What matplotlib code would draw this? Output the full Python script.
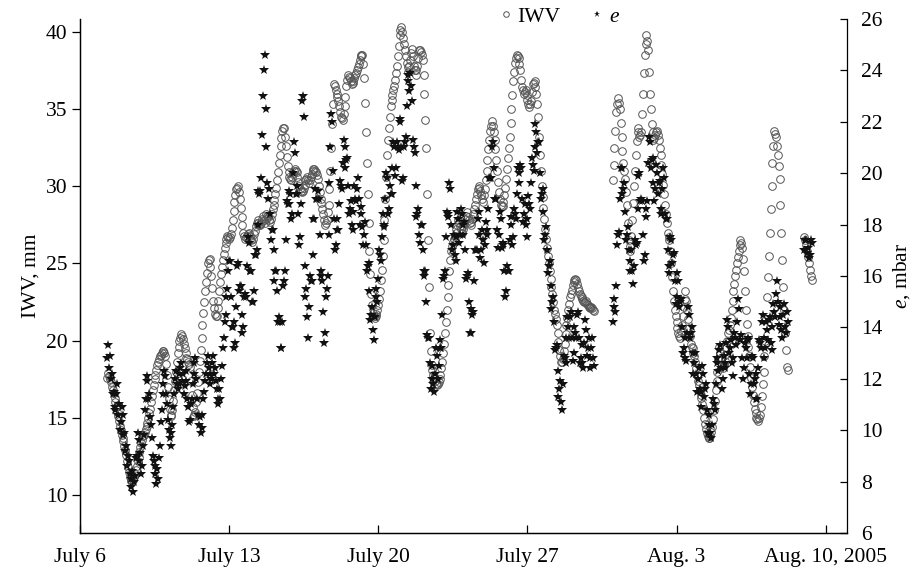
import matplotlib
matplotlib.use("Agg")
import matplotlib.pyplot as plt
import numpy as np
import pandas as pd
from matplotlib.lines import Line2D

nan = np.nan

# hourly readings, one row per day (00h ... 23h), starting July 7
iwv_mm = [
    nan, nan, nan, nan, nan, nan, nan, 17.6, 17.9, 17.7, 17.5, 17.3, 17.0, 16.8, 16.6, 16.3, 16.0, 15.7, 15.4, 15.1, 14.8, 14.5, 14.2, 13.9,  # Jul 7
    13.7, 13.5, 13.2, 12.9, 12.6, 12.2, 11.8, 11.5, 11.2, 11.0, 10.9, 10.9, 11.0, 11.2, 11.4, 11.6, 11.9, 12.2, 12.5, 12.8, 13.1, 13.4, 13.6, 13.8,  # Jul 8
    13.9, 14.1, 14.3, 14.5, 14.7, 15.0, 15.3, 15.6, 16.0, 16.4, 16.8, 17.1, 17.5, 17.8, 18.1, 18.4, 18.6, 18.8, 19.0, 19.1, 19.2, 19.3, 19.3, 19.2,  # Jul 9
    19.0, 18.5, 17.8, 17.0, 16.2, 15.6, 15.1, 15.2, 15.5, 16.1, 16.8, 17.4, 18.0, 18.6, 19.2, 19.6, 20.0, 20.2, 20.4, 20.3, 20.1, 19.8, 19.5, 19.2,  # Jul 10
    18.9, 18.8, 18.6, 18.5, 18.3, 17.4, 16.5, 15.7, 15.1, 15.2, 15.4, 16.0, 16.6, 17.3, 18.0, 18.7, 19.4, 20.2, 21.0, 21.8, 22.5, 23.2, 23.8, 24.4,  # Jul 11
    25.0, 25.2, 25.3, 24.8, 24.2, 23.4, 22.6, 22.1, 21.7, 21.6, 21.6, 22.1, 22.6, 23.2, 23.8, 24.3, 24.8, 25.2, 25.6, 26.0, 26.3, 26.6, 26.8, 26.7,  # Jul 12
    26.6, 26.7, 26.9, 27.3, 27.8, 28.4, 29.0, 29.4, 29.8, 29.9, 30.0, 29.6, 29.2, 28.6, 28.0, 27.5, 27.0, 26.8, 26.6, 26.7, 26.8, 26.9, 27.0, 26.8,  # Jul 13
    26.6, 26.5, 26.4, 26.6, 26.9, 27.1, 27.4, 27.6, 27.8, 27.6, 27.5, 27.5, 27.6, 27.9, 28.1, 27.8, 27.6, 27.9, 28.2, 28.1, 28.0, 27.8, 27.7, 27.9,  # Jul 14
    28.2, 28.5, 28.8, 29.1, 29.5, 29.9, 30.4, 30.9, 31.5, 32.0, 32.6, 33.1, 33.6, 33.8, 33.8, 33.2, 32.6, 31.9, 31.3, 30.9, 30.6, 30.5, 30.4, 30.6,  # Jul 15
    30.8, 31.0, 31.1, 31.0, 30.9, 30.6, 30.3, 30.0, 29.8, 29.7, 29.6, 29.7, 29.9, 30.1, 30.4, 30.5, 30.6, 30.4, 30.2, 30.4, 30.6, 30.8, 31.0, 31.1,  # Jul 16
    31.1, 31.0, 30.9, 30.7, 30.5, 30.0, 29.6, 29.2, 28.9, 28.5, 28.2, 27.8, 27.5, 27.6, 27.8, 28.3, 28.8, 29.8, 31.0, 32.5, 34.0, 35.3, 36.6, 36.5,  # Jul 17
    36.2, 36.0, 35.8, 35.5, 35.2, 34.8, 34.5, 34.4, 34.3, 34.7, 35.2, 35.8, 36.5, 36.9, 37.2, 37.1, 37.0, 36.8, 36.6, 36.7, 36.8, 37.0, 37.2, 37.3,  # Jul 18
    37.5, 37.7, 37.9, 38.2, 38.4, 38.5, 38.5, 37.9, 37.0, 35.4, 33.5, 31.5, 29.5, 27.6, 25.8, 24.3, 23.0, 22.3, 21.8, 21.6, 21.5, 21.6, 21.7, 22.0,  # Jul 19
    22.3, 22.7, 23.2, 23.9, 24.6, 25.5, 26.5, 27.8, 29.2, 30.6, 32.0, 33.0, 33.8, 34.5, 35.2, 35.6, 35.9, 36.2, 36.5, 36.9, 37.3, 37.8, 38.4, 39.1,  # Jul 20
    39.8, 40.1, 40.3, 40.0, 39.6, 39.2, 38.8, 38.4, 38.0, 37.7, 37.4, 37.8, 38.2, 38.6, 38.9, 38.4, 37.8, 37.5, 37.2, 37.5, 37.8, 38.3, 38.8, 38.8,  # Jul 21
    38.7, 38.5, 38.2, 37.2, 36.0, 34.3, 32.5, 29.5, 26.5, 23.5, 20.5, 19.3, 18.4, 18.1, 17.8, 17.6, 17.4, 17.2, 17.1, 17.2, 17.3, 17.5, 17.8, 18.2,  # Jul 22
    18.6, 19.2, 19.8, 20.5, 21.2, 22.0, 22.8, 23.6, 24.5, 25.2, 25.8, 26.1, 26.4, 26.6, 26.8, 27.0, 27.2, 27.5, 27.8, 27.6, 27.4, 27.2, 27.0, 27.2,  # Jul 23
    27.4, 27.6, 27.9, 28.1, 28.3, 28.0, 27.8, 27.6, 27.5, 27.7, 27.9, 28.2, 28.5, 28.8, 29.2, 29.5, 29.8, 29.9, 30.0, 29.7, 29.4, 29.2, 29.0, 29.4,  # Jul 24
    29.8, 30.4, 31.0, 31.7, 32.4, 33.0, 33.6, 33.9, 34.2, 33.9, 33.5, 33.0, 32.4, 31.7, 31.0, 30.3, 29.6, 29.2, 28.8, 28.7, 28.7, 29.0, 29.4, 29.9,  # Jul 25
    30.5, 31.1, 31.8, 32.5, 33.2, 34.1, 35.0, 35.9, 36.8, 37.4, 38.0, 38.3, 38.5, 38.4, 38.3, 37.9, 37.5, 36.9, 36.4, 36.2, 36.0, 36.1, 36.2, 35.9,  # Jul 26
    35.6, 35.3, 35.1, 35.3, 35.5, 36.1, 36.6, 36.7, 36.8, 36.4, 36.0, 35.3, 34.5, 33.2, 32.0, 31.0, 30.0, 29.3, 28.6, 27.9, 27.2, 26.6, 26.0, 25.5,  # Jul 27
    25.0, 24.5, 24.0, 23.5, 23.0, 22.5, 22.0, 21.7, 21.4, 21.0, 20.5, 19.9, 19.4, 19.0, 18.6, 18.6, 18.8, 19.3, 19.8, 20.4, 21.0, 21.5, 22.0, 22.4,  # Jul 28
    22.8, 23.0, 23.3, 23.6, 23.8, 23.9, 24.0, 23.9, 23.7, 23.4, 23.2, 23.0, 22.9, 22.8, 22.7, 22.6, 22.5, 22.5, 22.6, 22.4, 22.3, 22.2, 22.1, 22.2,  # Jul 29
    22.2, 22.1, 22.0, 21.9, nan, nan, nan, nan, nan, nan, nan, nan, nan, nan, nan, nan, nan, nan, nan, nan, nan, nan, nan, nan,  # Jul 30
    30.4, 31.4, 32.5, 33.6, 34.8, 35.3, 35.7, 35.4, 35.0, 34.1, 33.2, 32.3, 31.5, 31.0, 30.5, 29.6, 28.8, 27.6, 26.5, 26.1, 25.8, 26.8, 27.8, 28.9,  # Jul 31
    30.0, 31.0, 32.0, 32.9, 33.8, 33.5, 33.2, 33.3, 33.5, 34.7, 36.0, 37.3, 38.5, 39.2, 39.8, 39.4, 38.8, 37.4, 36.0, 35.0, 34.0, 33.5, 33.0, 33.1,  # Aug 1
    33.3, 33.5, 33.6, 33.3, 33.0, 32.5, 32.0, 31.4, 30.8, 30.1, 29.5, 28.8, 28.2, 27.6, 27.0, 26.7, 26.5, 25.8, 25.0, 24.1, 23.2, 22.6, 22.0, 21.6,  # Aug 2
    21.2, 20.8, 20.5, 20.3, 20.2, 20.6, 21.0, 21.6, 22.2, 22.7, 23.2, 22.6, 22.0, 21.4, 20.8, 20.3, 19.8, 19.6, 19.5, 19.2, 19.0, 18.6, 18.2, 17.8,  # Aug 3
    17.4, 17.1, 16.8, 16.5, 16.3, 15.9, 15.5, 15.0, 14.6, 14.3, 14.0, 13.8, 13.7, 13.7, 13.8, 14.1, 14.4, 14.9, 15.5, 16.1, 16.8, 17.4, 18.0, 18.8,  # Aug 4
    19.6, 19.2, 18.8, 18.5, 18.2, 18.4, 18.7, 19.1, 19.6, 20.0, 20.5, 20.7, 21.0, 21.5, 22.0, 22.6, 23.2, 23.7, 24.2, 24.6, 25.0, 25.4, 25.8, 26.2,  # Aug 5
    26.5, 26.3, 26.0, 25.3, 24.5, 23.2, 22.0, 21.1, 20.3, 19.6, 19.0, 18.3, 17.6, 17.0, 16.5, 16.0, 15.6, 15.3, 15.0, 14.9, 14.8, 15.0, 15.2, 15.7,  # Aug 6
    16.4, 17.2, 18.0, 19.0, 20.0, 21.4, 22.8, 24.1, 25.5, 27.0, 28.5, 30.0, 31.5, 32.6, 33.6, 33.4, 33.2, 32.6, 32.0, 31.3, 30.5, 28.8, 27.0, 25.2,  # Aug 7
    23.5, 22.0, 20.5, 19.4, 18.3, 18.1, nan, nan, nan, nan, nan, nan, nan, nan, nan, nan, nan, nan, nan, nan, nan, nan, nan, nan,  # Aug 8
    26.7, 26.5, 26.2, 25.8, 25.4, 25.0, 24.6, 24.2, 23.9, nan, nan, nan, nan, nan, nan, nan, nan, nan, nan, nan, nan, nan, nan, nan,  # Aug 9
]

e_mbar = [
    nan, nan, nan, nan, nan, nan, nan, 12.8, 13.3, 12.4, 12.9, 12.0, 12.2, 11.4, 11.5, 10.9, 10.8, 11.4, 11.8, 10.6, 11.0, 10.0, 10.3, 10.9,  # Jul 7
    10.6, 9.8, 9.9, 9.2, 9.4, 8.6, 9.0, 8.8, 8.3, 8.1, 7.8, 8.4, 7.6, 8.0, 8.2, 8.9, 9.0, 9.9, 9.6, 8.8, 9.1, 8.3, 8.6, 9.4,  # Jul 8
    9.8, 10.8, 11.2, 11.9, 12.1, 11.2, 11.4, 10.5, 10.2, 9.7, 9.0, 8.8, 8.3, 8.6, 7.9, 8.5, 8.1, 8.9, 9.4, 10.3, 10.8, 11.4, 11.8, 12.3,  # Jul 9
    12.1, 11.4, 11.0, 10.4, 10.0, 9.7, 9.4, 9.9, 10.2, 10.9, 11.4, 12.0, 12.3, 11.8, 11.6, 12.2, 11.8, 12.4, 12.6, 11.9, 12.2, 11.4, 11.7, 12.3,  # Jul 10
    11.9, 11.2, 10.9, 10.3, 10.4, 11.0, 11.2, 11.8, 12.2, 12.6, 12.8, 12.0, 11.2, 10.6, 10.2, 10.5, 9.9, 10.1, 10.6, 11.2, 11.5, 11.9, 12.2, 12.6,  # Jul 11
    12.9, 12.4, 12.2, 11.8, 12.0, 12.6, 12.9, 12.2, 12.4, 11.9, 11.6, 11.2, 11.0, 11.6, 11.2, 12.0, 12.5, 13.2, 13.6, 14.2, 14.5, 15.2, 15.5, 16.2,  # Jul 12
    16.6, 16.6, 15.2, 14.0, 14.0, 14.2, 13.2, 13.4, 14.8, 16.4, 16.5, 15.4, 15.6, 15.6, 14.5, 13.8, 14.0, 15.2, 15.3, 15.2, 16.4, 17.5, 17.3, 16.2,  # Jul 13
    16.2, 16.2, 15.0, 15.0, 15.4, 16.8, 16.8, 17.0, 18.0, 19.3, 19.2, 19.3, 19.8, 21.5, 23.0, 24.0, 24.6, 22.5, 21.0, 19.6, 19.0, 19.4, 18.4, 17.4,  # Jul 14
    17.8, 17.8, 17.0, 15.8, 16.2, 16.2, 15.4, 14.2, 14.4, 14.2, 13.2, 13.2, 14.2, 15.6, 15.8, 16.2, 17.4, 18.9, 18.8, 18.8, 19.3, 19.2, 18.2, 18.4,  # Jul 15
    20.0, 21.2, 20.8, 19.2, 19.2, 19.5, 18.4, 17.2, 17.5, 18.8, 22.8, 23.0, 22.2, 16.4, 15.2, 15.5, 14.4, 13.6, 14.8, 16.0, 15.8, 15.8, 16.8, 18.2,  # Jul 16
    18.2, 19.4, 19.0, 19.0, 19.3, 19.0, 17.6, 16.2, 16.0, 15.8, 14.6, 13.4, 13.8, 15.2, 15.5, 16.0, 17.6, 19.6, 21.0, 22.3, 22.0, 20.1, 18.2, 17.0,  # Jul 17
    17.2, 18.2, 17.8, 17.8, 18.8, 19.7, 19.5, 19.4, 20.4, 21.3, 21.0, 20.2, 20.5, 20.6, 19.5, 18.4, 18.6, 18.9, 18.0, 17.8, 18.5, 19.5, 19.0, 18.9,  # Jul 18
    19.4, 19.8, 19.0, 18.0, 18.4, 18.7, 17.9, 17.2, 17.6, 18.1, 17.2, 16.2, 16.4, 16.5, 15.4, 14.3, 14.5, 14.8, 13.9, 13.5, 14.4, 15.5, 15.2, 15.0,  # Jul 19
    15.9, 17.0, 16.8, 16.6, 17.5, 18.4, 18.0, 17.9, 19.0, 20.0, 19.8, 18.4, 18.6, 19.5, 19.2, 19.2, 20.2, 21.2, 21.0, 19.9, 20.2, 21.2, 21.0, 20.9,  # Jul 20
    22.0, 22.1, 21.0, 19.7, 19.8, 21.0, 21.2, 21.4, 22.6, 23.8, 23.6, 23.2, 23.9, 23.4, 22.8, 21.3, 21.0, 20.8, 19.5, 18.3, 18.4, 18.6, 17.6, 17.3,  # Jul 21
    18.0, 18.0, 17.0, 16.0, 16.2, 16.2, 15.0, 13.7, 13.6, 13.6, 12.6, 11.6, 12.0, 12.5, 11.8, 11.5, 12.2, 13.2, 12.9, 12.0, 12.5, 13.5, 13.2, 13.2,  # Jul 22
    14.5, 15.9, 16.0, 16.2, 17.5, 18.5, 18.3, 18.4, 19.6, 19.4, 18.0, 17.0, 17.2, 17.6, 16.8, 16.6, 17.5, 18.5, 18.2, 17.3, 17.6, 18.6, 18.4, 17.6,  # Jul 23
    18.0, 18.1, 17.0, 15.9, 16.0, 16.1, 15.0, 13.8, 13.8, 14.7, 14.5, 14.6, 15.8, 17.0, 17.0, 17.0, 18.2, 18.5, 17.6, 16.7, 17.0, 17.8, 17.4, 16.5,  # Jul 24
    17.2, 18.1, 17.8, 17.6, 18.6, 19.8, 19.8, 19.8, 21.0, 21.2, 20.2, 19.0, 19.0, 19.0, 17.8, 17.1, 17.6, 18.5, 18.2, 17.1, 17.2, 17.3, 16.2, 15.2,  # Jul 25
    15.4, 16.4, 16.2, 16.2, 17.4, 18.3, 18.0, 17.2, 17.5, 18.6, 18.4, 18.2, 19.2, 20.2, 20.0, 19.6, 20.3, 20.2, 19.0, 18.1, 18.4, 18.8, 18.0, 17.5,  # Jul 26
    18.2, 19.1, 18.8, 18.6, 19.6, 20.6, 20.3, 20.1, 21.0, 21.9, 21.6, 20.8, 21.2, 21.2, 20.0, 19.0, 19.2, 19.4, 18.5, 17.4, 17.6, 17.9, 17.0, 16.1,  # Jul 27
    16.4, 16.6, 15.6, 14.7, 15.0, 15.2, 14.2, 13.1, 13.2, 13.3, 12.3, 11.3, 11.6, 11.9, 11.1, 10.8, 11.8, 12.9, 12.8, 12.6, 13.6, 14.4, 14.0, 13.6,  # Jul 28
    14.4, 14.6, 13.6, 12.7, 13.0, 14.0, 13.8, 13.6, 14.5, 14.6, 13.6, 12.6, 12.8, 13.3, 12.6, 12.4, 13.4, 14.3, 13.9, 12.9, 13.2, 13.6, 12.8, 12.4,  # Jul 29
    13.2, 13.6, 12.8, 12.5, nan, nan, nan, nan, nan, nan, nan, nan, nan, nan, nan, nan, nan, nan, nan, nan, nan, nan, nan, nan,  # Jul 30
    14.2, 15.1, 14.8, 14.6, 15.6, 17.2, 17.6, 17.7, 19.0, 20.2, 20.2, 19.2, 19.4, 19.6, 18.5, 17.4, 17.6, 17.9, 17.0, 16.2, 16.6, 17.0, 16.2, 15.7,  # Jul 31
    16.4, 17.4, 17.2, 17.3, 18.6, 19.9, 20.0, 18.9, 19.0, 18.9, 17.6, 16.6, 16.8, 18.3, 18.6, 18.9, 20.4, 21.4, 21.2, 20.2, 20.5, 20.6, 19.6, 18.9,  # Aug 1
    19.4, 20.3, 20.0, 19.2, 19.6, 19.7, 18.6, 18.4, 19.4, 20.2, 19.8, 18.4, 18.2, 18.2, 17.0, 16.1, 16.4, 17.5, 17.4, 16.5, 16.8, 16.9, 15.8, 14.9,  # Aug 2
    15.2, 16.1, 15.8, 14.8, 15.0, 15.1, 14.0, 13.0, 13.2, 13.6, 12.8, 12.7, 13.8, 14.8, 14.5, 13.6, 13.8, 14.0, 13.0, 12.2, 12.6, 13.0, 12.2, 11.5,  # Aug 3
    12.0, 12.4, 11.6, 10.9, 11.5, 12.5, 12.2, 11.3, 11.6, 11.8, 10.8, 9.9, 10.2, 10.6, 9.9, 9.7, 10.2, 11.2, 11.0, 10.8, 11.8, 12.8, 12.6, 12.3,  # Aug 4
    13.1, 13.3, 12.4, 11.6, 12.0, 12.9, 12.6, 12.4, 13.4, 14.3, 14.0, 13.0, 13.2, 13.5, 12.6, 12.1, 12.8, 13.8, 13.6, 13.3, 14.2, 15.1, 14.7, 13.5,  # Aug 5
    13.5, 13.7, 12.8, 12.0, 12.4, 13.4, 13.2, 12.8, 13.6, 13.5, 12.2, 11.4, 11.8, 12.9, 12.8, 11.8, 12.0, 12.2, 11.2, 11.2, 12.4, 13.5, 13.4, 13.2,  # Aug 6
    14.2, 14.5, 13.6, 12.8, 13.2, 14.2, 13.9, 13.5, 14.3, 14.4, 13.4, 13.1, 14.0, 14.9, 14.6, 14.4, 15.3, 15.8, 15.0, 14.1, 14.4, 14.8, 13.9, 13.6,  # Aug 7
    14.5, 14.9, 14.0, 13.8, 14.6, 14.2, nan, nan, nan, nan, nan, nan, nan, nan, nan, nan, nan, nan, nan, nan, nan, nan, nan, nan,  # Aug 8
    17.0, 17.4, 17.4, 16.9, 17.1, 16.7, 16.8, 17.4, 17.3, nan, nan, nan, nan, nan, nan, nan, nan, nan, nan, nan, nan, nan, nan, nan,  # Aug 9
]

tick_dates = ["2005-07-06", "2005-07-13", "2005-07-20", "2005-07-27",
              "2005-08-03", "2005-08-10"]
tick_labels = ["July 6", "July 13", "July 20", "July 27", "Aug. 3", "Aug. 10, 2005"]

t_iwv = pd.date_range("2005-07-07", periods=len(iwv_mm), freq="1h")
t_e = pd.date_range("2005-07-07", periods=len(e_mbar), freq="1h")

plt.rcParams["font.family"] = ["Liberation Serif", "DejaVu Serif"]
plt.rcParams["font.size"] = 15.5
plt.rcParams["mathtext.fontset"] = "custom"
plt.rcParams["mathtext.rm"] = "Liberation Serif"
plt.rcParams["mathtext.it"] = "Liberation Serif:italic"

fig = plt.figure(figsize=(9.18, 5.76), dpi=100)
ax = fig.add_axes([0.0871, 0.0747, 0.8356, 0.8924])
ax2 = ax.twinx()

ax.plot(t_iwv, iwv_mm, ls="none", marker="o", ms=5.5, mfc="none",
        mec="#555555", mew=0.7)
ax2.plot(t_e, e_mbar, ls="none", marker="*", ms=7.5, color="#111111", mew=0)

ax.set_xlim(pd.Timestamp("2005-07-06"), pd.Timestamp("2005-08-11"))
ax.set_ylim(7.55, 40.83)
ax2.set_ylim(6, 26)

ax.set_xticks(pd.to_datetime(tick_dates))
ax.set_xticklabels(tick_labels)
ax.set_yticks([10, 15, 20, 25, 30, 35, 40])
ax2.set_yticks(range(6, 27, 2))

ax.set_ylabel("IWV, mm", labelpad=4)
ax2.set_ylabel("$e$, mbar", labelpad=6)

for a in (ax, ax2):
    a.spines["top"].set_visible(False)
    for s in a.spines.values():
        s.set_linewidth(0.9)
ax.spines["right"].set_visible(False)

ax.tick_params(axis="y", direction="out", length=6, width=0.9, pad=3)
ax.tick_params(axis="x", direction="in", length=6, width=0.9, pad=11)
ax2.tick_params(axis="y", direction="in", length=5, width=0.9, pad=10)

handles = [
    Line2D([], [], ls="none", marker="o", ms=4, mfc="none", mec="#555555", mew=0.7),
    Line2D([], [], ls="none", marker="*", ms=5, color="#111111", mew=0),
]
fig.legend(handles, ["IWV", "$e$"], loc="center left",
           bbox_to_anchor=(0.532, 1 - 17 / 576), ncol=2, frameon=False,
           handlelength=0.6, handletextpad=0.25, columnspacing=1.4, borderpad=0)

fig.savefig("out.png", dpi=100)
